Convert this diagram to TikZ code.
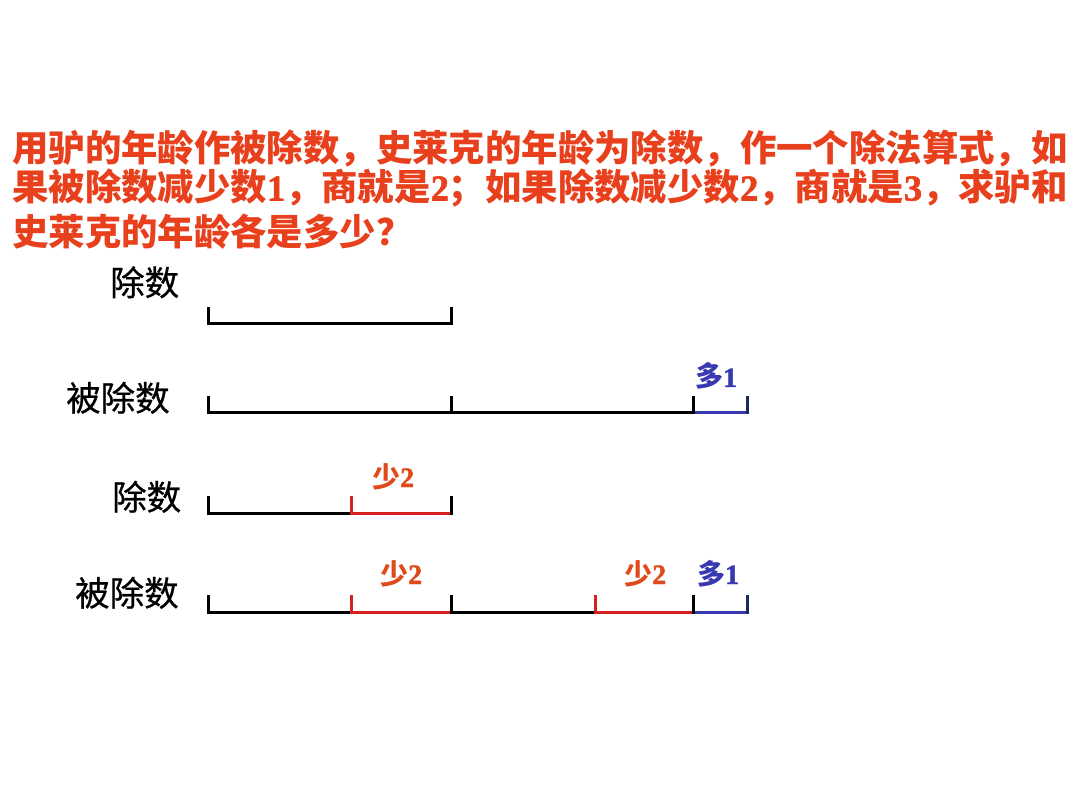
\documentclass[tikz,border=0pt]{standalone}
\usepackage{fontspec}
\newfontfamily\cjk{Noto Sans CJK SC}
\newfontfamily\cjkfb{Noto Sans CJK SC}[FakeBold=0.6]
\newfontfamily\tnrb{Liberation Serif Bold}[FakeBold=1.5]
\definecolor{titlered}{HTML}{E8401C}
\definecolor{labred}{HTML}{E04A1A}
\definecolor{segred}{HTML}{D42020}
\definecolor{segblue}{HTML}{3838B0}
\definecolor{navy}{HTML}{1A2A60}
\newcommand{\dg}[1]{{\tnrb #1}}
\begin{document}
\begin{tikzpicture}[x=1pt,y=-1pt,
  titletext/.style={anchor=base west,inner sep=0pt,text=titlered,font=\cjk\bfseries\fontsize{36.4}{40}\selectfont},
  rowlabel/.style={anchor=base west,inner sep=0pt,text=black,font=\cjkfb\fontsize{34.5}{38}\selectfont},
  redlab/.style={anchor=base west,inner sep=0pt,text=labred,font=\cjk\bfseries\fontsize{28}{30}\selectfont},
  bluelab/.style={anchor=base west,inner sep=0pt,text=segblue,font=\cjk\bfseries\fontsize{28}{30}\selectfont},
  seg/.style={line width=3pt,line cap=rect},
  tick/.style={line width=3pt,line cap=butt}]
\useasboundingbox[fill=white] (0,0) rectangle (1080,810);

% title
\node[titletext] (t1) at (12,162) {用驴的年龄作被除数，史莱克的年龄为除数，作一个除法算式，如};
\node[titletext] (t2) at (12,200.5) {果被除数减少数\dg{1}，商就是\dg{2}；如果除数减少数\dg{2}，商就是\dg{3}，求驴和};
\node[titletext] (t3) at (12,246) {史莱克的年龄各是多少？};

% row labels
\node[rowlabel] (l1) at (110,295.5) {除数};
\node[rowlabel] (l2) at (66,411) {被除数};
\node[rowlabel] (l3) at (112,510) {除数};
\node[rowlabel] (l4) at (75,606) {被除数};

% row 1
\draw[seg] (208,324) -- (451,324);
\draw[tick] (208,307) -- (208,325.5);
\draw[tick] (451,307) -- (451,325.5);

% row 2
\draw[seg] (208,413) -- (693,413);
\draw[seg,segblue] (693,413) -- (747,413);
\draw[tick] (208,396) -- (208,414.5);
\draw[tick] (451,396) -- (451,414.5);
\draw[tick] (693,396) -- (693,414.5);
\draw[tick,navy] (747,396) -- (747,414.5);
\node[bluelab] (d1) at (695,387) {多\dg{1}};

% row 3
\draw[seg] (208,513) -- (351,513);
\draw[seg,segred] (351,513) -- (451,513);
\draw[tick] (208,496) -- (208,514.5);
\draw[tick,segred] (351,496) -- (351,514.5);
\draw[tick] (451,496) -- (451,514.5);
\node[redlab] (s1) at (372,487) {少\dg{2}};

% row 4
\draw[seg] (208,612) -- (351,612);
\draw[seg,segred] (351,612) -- (451,612);
\draw[seg] (451,612) -- (595,612);
\draw[seg,segred] (595,612) -- (693,612);
\draw[seg,segblue] (693,612) -- (747,612);
\draw[tick] (208,595) -- (208,613.5);
\draw[tick,segred] (351,595) -- (351,613.5);
\draw[tick] (451,595) -- (451,613.5);
\draw[tick,segred] (595,595) -- (595,613.5);
\draw[tick] (693,595) -- (693,613.5);
\draw[tick,navy] (747,595) -- (747,613.5);
\node[redlab] (s2) at (380,584) {少\dg{2}};
\node[redlab] (s3) at (624,584) {少\dg{2}};
\node[bluelab] (d2) at (697,584) {多\dg{1}};
\end{tikzpicture}
\end{document}
